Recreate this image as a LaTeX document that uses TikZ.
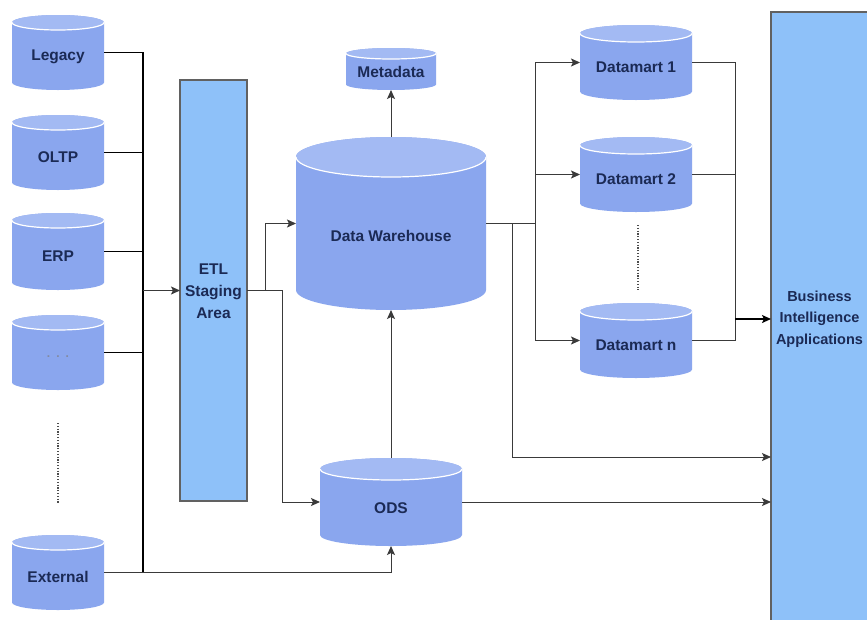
\documentclass[tikz,border=0pt]{standalone}
\usepackage{fontspec}
\setmainfont{Liberation Sans}
\usetikzlibrary{arrows.meta}
\definecolor{cylbodyc}{HTML}{8AA6EE}
\definecolor{cyltopc}{HTML}{A3BAF3}
\definecolor{boxc}{HTML}{8EC1F9}
\definecolor{txtc}{HTML}{1B2A55}
\definecolor{linec}{HTML}{3A3A3A}
\tikzset{
  cylbody/.style={fill=cylbodyc},
  cyltop/.style={fill=cyltopc},
  anchorbox/.style={rectangle,inner sep=0pt,outer sep=0pt},
  lbl/.style={font=\bfseries\fontsize{15.5}{22}\selectfont,text=txtc,inner sep=0pt},
  bigbox/.style={rectangle,fill=boxc,draw=linec!80,line width=1.2pt,inner sep=0pt,outer sep=0pt},
  ln/.style={draw=linec,line width=1pt},
  arr/.style={ln,-{Stealth[length=9pt,width=8pt,inset=2pt]}},
  dotline/.style={draw=gray!60!black,line width=2.8pt,dash pattern=on 1.2pt off 1.6pt},
}
% name, cx, ytop, ybot, halfwidth, ry, label
\newcommand\dbcyl[7]{%
  \fill[cylbody] (#2-#5,#3+#6) -- (#2-#5,#4-#6)
     arc[start angle=180,end angle=360,x radius=#5pt,y radius=#6pt]
     -- (#2+#5,#3+#6)
     arc[start angle=0,end angle=180,x radius=#5pt,y radius=#6pt] -- cycle;
  \fill[cyltop] (#2,#3+#6) ellipse[x radius=#5pt,y radius=#6pt];
  \draw[white,line width=1.2pt] (#2-#5,#3+#6)
     arc[start angle=180,end angle=360,x radius=#5pt,y radius=#6pt];
  \node[anchorbox,minimum width={2*#5*1pt},minimum height={(#4-#3)*1pt}] (#1) at (#2,{(#3+#4)/2}) {};
  \node[lbl] (#1-l) at (#2,{(#3+#4)/2+0.6*#6}) {#7};
}
\begin{document}
\begin{tikzpicture}[x=1pt,y=-1pt]
\path[use as bounding box,fill=white] (0,0) rectangle (867,619);
\clip (0,0) rectangle (867,619);

% sources
\dbcyl{legacy}{58}{15}{90}{46}{7.5}{Legacy}
\dbcyl{oltp}{58}{115}{190}{46}{7.5}{OLTP}
\dbcyl{erp}{58}{213}{290}{46}{7.5}{ERP}
\dbcyl{dots}{58}{315}{390}{46}{7.5}{\color{txtc!55}\fontsize{12}{13}\selectfont .\,\,\,.\,\,\,.}
\dbcyl{ext}{58}{535}{610}{46}{7.5}{External}
\draw[dotline] (58,423) -- (58,503);

% ETL
\node[bigbox,minimum width=67pt,minimum height=421pt] (etl) at (213.5,290.5) {};
\node[lbl,align=center] (etl-l) at (213.5,291) {ETL\\Staging\\Area};

% warehouse etc
\dbcyl{meta}{391}{48}{90}{45}{5.5}{Metadata}
\dbcyl{dw}{391}{137}{310}{95}{20}{Data Warehouse}
\dbcyl{ods}{391}{458}{546}{71}{11}{ODS}

% datamarts
\dbcyl{dm1}{636}{25}{100}{56}{8.5}{Datamart 1}
\dbcyl{dm2}{636}{137}{212}{56}{8.5}{Datamart 2}
\dbcyl{dmn}{636}{303}{378}{56}{8.5}{Datamart n}
\draw[dotline] (638,225) -- (638,290);

% BI
\node[bigbox,minimum width=120pt,minimum height=640pt] (bi) at (831,332) {};
\node[lbl,align=center,font=\bfseries\fontsize{14.5}{21.5}\selectfont] (bi-l) at (819.5,319) {Business\\Intelligence\\Applications};

% coordinates
\coordinate (bx) at (143,0);
\coordinate (e1) at (265,0);
\coordinate (e2) at (282,0);
\coordinate (d1) at (512,0);
\coordinate (d2) at (535,0);
\coordinate (r) at (735,0);
\coordinate (y457) at (0,457);
\coordinate (y319) at (0,319);

% source bus
\draw[ln,line width=1.4pt,draw=black] (legacy.east) -| (bx |- ext.east);
\draw[ln,draw=black] (oltp.east) -- (oltp.east -| bx);
\draw[ln,draw=black] (erp.east) -- (erp.east -| bx);
\draw[ln,draw=black] (dots.east) -- (dots.east -| bx);
\draw[arr] (bx |- etl.west) -- (etl.west);
\draw[arr] (ext.east) -| (ods.south);

% ETL out
\draw[arr] (etl.east) -- (etl.east -| e1) |- (dw.west);
\draw[arr] (etl.east) -| (e2 |- ods.west) -- (ods.west);

% DW
\draw[arr] (dw.north) -- (meta.south);
\draw[arr] (ods.north) -- (dw.south);
\draw[ln] (dw.east) -- (dw.east -| d2);
\draw[arr] (dw.east -| d1) |- (bi.west |- y457);
\draw[ln] (d2 |- dm1.west) -- (d2 |- dmn.west);
\draw[arr] (d2 |- dm1.west) -- (dm1.west);
\draw[arr] (d2 |- dm2.west) -- (dm2.west);
\draw[arr] (d2 |- dmn.west) -- (dmn.west);

% datamarts to BI
\draw[ln] (dm1.east) -| (r |- dmn.east) -- (dmn.east);
\draw[ln] (dm2.east) -- (dm2.east -| r);
\draw[arr,line width=1.5pt,draw=black] (r |- y319) -- (bi.west |- y319);

% ODS to BI
\draw[arr] (ods.east) -- (ods.east -| bi.west);
\end{tikzpicture}
\end{document}
